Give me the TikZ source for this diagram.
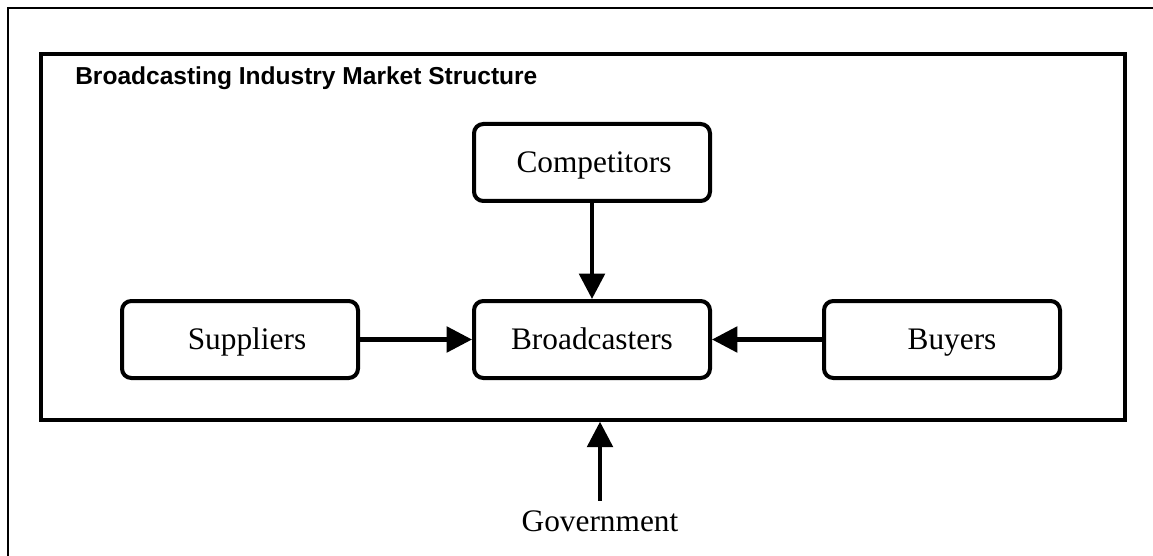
\documentclass[tikz,border=0pt]{standalone}
\usepackage{fontspec}
\setmainfont{Liberation Serif}
\newfontfamily\titlefont{Liberation Sans}
\usetikzlibrary{arrows.meta}
\newcommand{\pad}[1]{\hspace*{#1}}
\begin{document}
\begin{tikzpicture}[x=0.75pt,y=-0.75pt,
  party/.style={draw,line width=3pt,rounded corners=7pt,
    minimum width=177pt,minimum height=57.75pt,inner sep=0pt,
    font=\fontsize{23.5}{28}\selectfont,text height=15.5pt,text depth=0pt},
  flow/.style={line width=3.2pt,-{Triangle[length=19pt,width=19pt]}},
  framebox/.style={draw,line width=3pt,inner sep=0pt},
  heading/.style={anchor=base west,inner sep=0pt,
    font=\titlefont\bfseries\fontsize{18.4}{22}\selectfont},
  actor/.style={anchor=base,inner xsep=0pt,inner ysep=6.75pt,
    font=\fontsize{23.5}{28}\selectfont}]
\useasboundingbox (0,0) rectangle (1153,556);
% page border (top and left edges)
\draw[line width=1.5pt] (8,556) -- (8,8) -- (1153,8);
% market boundary
\node[framebox,minimum width=812.8pt,minimum height=274.5pt] (market) at (582.85,236.7) {};
\node[heading] (title) at (75,85) {Broadcasting Industry Market Structure};
% participants
\node[party] (comp) at (592,162.5) {\pad{3pt}Competitors};
\node[party] (supp) at (240,339.5) {\pad{10.5pt}Suppliers};
\node[party] (brd) at (592,339.5) {Broadcasters};
\node[party] (buy) at (942,339.5) {\pad{15pt}Buyers};
\node[actor] (gov) at (600,531) {Government};
% influences
\draw[flow] (comp.south) -- (brd.north);
\draw[flow] (supp.east) -- (brd.west);
\draw[flow] (buy.west) -- (brd.east);
\draw[flow] (gov.north) -- (market.south -| gov.north);
\end{tikzpicture}
\end{document}
